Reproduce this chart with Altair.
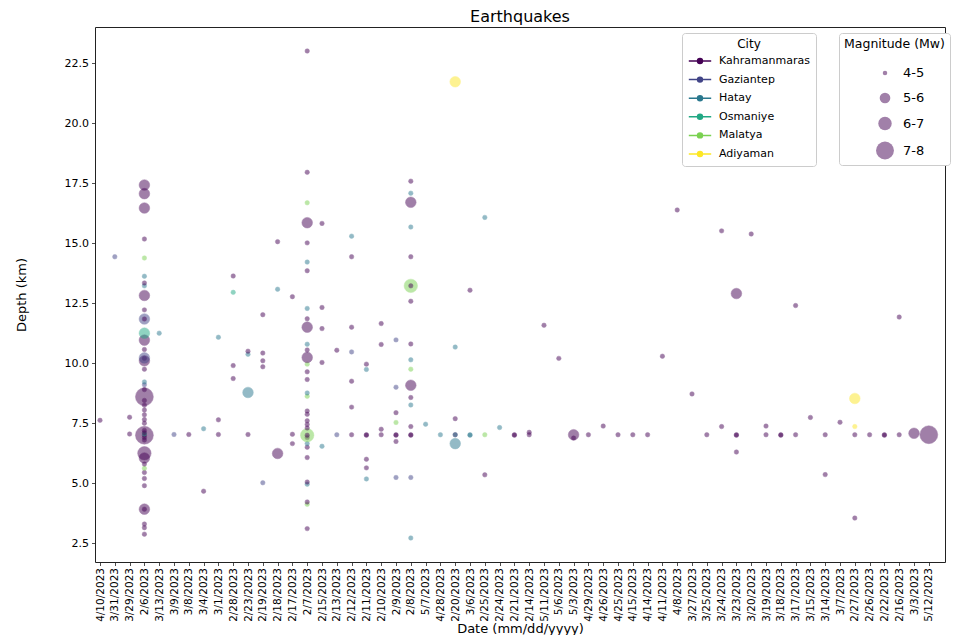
import altair as alt
import pandas as pd

# x-axis categories, in the order they appear on the chart
date_order = [
    "4/10/2023", "3/31/2023", "3/29/2023", "2/6/2023", "3/13/2023", "3/9/2023", "3/8/2023",
    "3/4/2023", "3/1/2023", "2/28/2023", "2/23/2023", "2/19/2023", "2/18/2023", "2/17/2023",
    "2/7/2023", "2/15/2023", "2/13/2023", "2/12/2023", "2/11/2023", "2/10/2023", "2/9/2023",
    "2/8/2023", "5/7/2023", "4/28/2023", "2/20/2023", "3/6/2023", "2/25/2023", "2/24/2023",
    "2/21/2023", "2/14/2023", "5/11/2023", "5/6/2023", "5/3/2023", "4/29/2023", "4/26/2023",
    "4/25/2023", "4/15/2023", "4/14/2023", "4/11/2023", "4/8/2023", "3/27/2023", "3/25/2023",
    "3/24/2023", "3/23/2023", "3/20/2023", "3/19/2023", "3/18/2023", "3/17/2023", "3/15/2023",
    "3/14/2023", "3/7/2023", "2/27/2023", "2/26/2023", "2/22/2023", "2/16/2023", "3/3/2023",
    "5/12/2023",
]

city_names = ["Kahramanmaras", "Gaziantep", "Hatay", "Osmaniye", "Malatya", "Adiyaman"]
city_codes = ["K", "G", "H", "O", "M", "A"]
city_colors = ["#440154", "#414487", "#2a788e", "#22a884", "#7ad151", "#fde725"]

mag_bins = ["4-5", "5-6", "6-7", "7-8"]
mag_codes = ["s", "m", "l", "x"]

# events per date: (depth km, city code, magnitude code)
events = {
    "4/10/2023": [(7.62, "K", "s")],
    "3/31/2023": [(14.43, "G", "s")],
    "3/29/2023": [(7.75, "K", "s"), (7.05, "K", "s")],
    "2/6/2023": [
        (17.42, "K", "m"), (17.06, "K", "m"), (16.46, "K", "m"), (15.17, "K", "s"), (14.38, "M", "s"),
        (13.62, "H", "s"), (13.34, "K", "s"), (13.22, "H", "s"), (12.82, "K", "m"), (12.22, "K", "s"),
        (11.84, "G", "m"), (11.84, "K", "s"), (11.25, "O", "m"), (10.96, "K", "m"), (10.57, "K", "s"),
        (10.22, "G", "m"), (10.2, "K", "s"), (10.1, "K", "m"), (9.75, "K", "s"), (9.22, "H", "s"),
        (9.1, "G", "s"), (8.6, "K", "x"), (8.9, "K", "s"), (8.45, "K", "s"), (8.25, "K", "s"),
        (8.05, "K", "s"), (7.85, "K", "s"), (7.65, "K", "s"), (7.5, "K", "s"), (7.0, "K", "x"),
        (7.2, "K", "s"), (7.1, "K", "s"), (7.0, "K", "s"), (6.9, "K", "s"), (7.05, "O", "s"),
        (6.8, "K", "s"), (6.25, "K", "l"), (6.05, "K", "m"), (5.8, "K", "s"), (5.62, "M", "s"),
        (5.45, "K", "s"), (5.2, "K", "s"), (4.9, "K", "s"), (3.92, "K", "m"), (3.92, "K", "s"),
        (3.3, "K", "s"), (3.15, "K", "s"), (2.88, "K", "s"),
    ],
    "3/13/2023": [(11.25, "H", "s")],
    "3/9/2023": [(7.03, "G", "s")],
    "3/8/2023": [(7.03, "K", "s")],
    "3/4/2023": [(7.27, "H", "s"), (4.67, "K", "s")],
    "3/1/2023": [(11.08, "H", "s"), (7.64, "K", "s"), (7.03, "K", "s")],
    "2/28/2023": [(13.63, "K", "s"), (12.95, "O", "s"), (9.9, "K", "s"), (9.36, "K", "s")],
    "2/23/2023": [(10.5, "K", "s"), (10.37, "H", "s"), (8.78, "H", "m"), (7.03, "K", "s")],
    "2/19/2023": [(12.02, "K", "s"), (10.42, "K", "s"), (10.1, "K", "s"), (9.85, "K", "s"), (5.02, "G", "s")],
    "2/18/2023": [(15.06, "K", "s"), (13.08, "H", "s"), (6.24, "K", "m")],
    "2/17/2023": [(12.77, "K", "s"), (7.04, "K", "s"), (6.65, "K", "s")],
    "2/7/2023": [
        (23.0, "K", "s"), (17.95, "K", "s"), (16.68, "M", "s"), (15.85, "K", "m"), (15.01, "K", "s"),
        (14.21, "H", "s"), (13.85, "K", "s"), (12.28, "H", "s"), (11.85, "K", "s"), (11.5, "K", "m"),
        (10.79, "H", "s"), (10.55, "K", "s"), (10.24, "K", "m"), (9.96, "M", "s"), (9.64, "K", "s"),
        (9.32, "K", "s"), (8.76, "H", "s"), (8.62, "M", "s"), (8.01, "K", "s"), (7.87, "K", "s"),
        (7.6, "K", "s"), (7.45, "K", "s"), (7.3, "K", "s"), (7.0, "M", "l"), (7.0, "K", "s"),
        (6.9, "K", "s"), (6.65, "H", "s"), (6.5, "K", "s"), (6.07, "K", "s"), (5.05, "K", "s"),
        (4.96, "H", "s"), (4.22, "K", "s"), (4.12, "M", "s"), (3.11, "K", "s"),
    ],
    "2/15/2023": [(15.82, "K", "s"), (12.32, "K", "s"), (11.44, "K", "s"), (10.03, "K", "s"), (6.54, "H", "s")],
    "2/13/2023": [(10.54, "K", "s"), (7.02, "G", "s")],
    "2/12/2023": [(15.29, "H", "s"), (14.43, "K", "s"), (11.5, "K", "s"), (10.47, "G", "s"),
                  (9.25, "K", "s"), (8.17, "K", "s"), (7.02, "K", "s")],
    "2/11/2023": [(9.96, "K", "s"), (9.74, "H", "s"), (7.02, "K", "s"), (7.0, "K", "s"),
                  (6.0, "K", "s"), (5.64, "K", "s"), (5.18, "H", "s")],
    "2/10/2023": [(11.65, "K", "s"), (10.78, "K", "s"), (7.25, "K", "s"), (7.02, "K", "s")],
    "2/9/2023": [(10.97, "G", "s"), (9.0, "G", "s"), (7.94, "K", "s"), (7.53, "M", "s"),
                 (7.02, "K", "s"), (7.0, "K", "s"), (6.74, "K", "s"), (5.24, "G", "s")],
    "2/8/2023": [
        (17.58, "K", "s"), (17.08, "H", "s"), (16.7, "K", "m"), (15.67, "H", "s"), (14.43, "K", "s"),
        (13.22, "M", "l"), (13.22, "K", "s"), (12.58, "K", "s"), (10.8, "K", "s"), (10.14, "H", "s"),
        (9.75, "M", "s"), (9.08, "K", "m"), (8.57, "K", "s"), (8.26, "H", "s"), (7.36, "K", "s"),
        (7.02, "K", "s"), (7.0, "K", "s"), (5.24, "G", "s"), (2.72, "H", "s"),
    ],
    "5/7/2023": [(7.46, "H", "s")],
    "4/28/2023": [(7.02, "H", "s")],
    "2/20/2023": [(21.72, "A", "m"), (10.67, "H", "s"), (7.69, "K", "s"), (7.02, "K", "s"),
                  (7.02, "H", "s"), (6.65, "H", "m")],
    "3/6/2023": [(13.04, "K", "s"), (7.02, "H", "s"), (7.0, "H", "s")],
    "2/25/2023": [(16.07, "H", "s"), (7.02, "M", "s"), (5.35, "K", "s")],
    "2/24/2023": [(7.32, "H", "s")],
    "2/21/2023": [(7.02, "K", "s"), (7.0, "K", "s")],
    "2/14/2023": [(7.12, "K", "s"), (7.02, "K", "s")],
    "5/11/2023": [(11.58, "K", "s")],
    "5/6/2023": [(10.2, "K", "s")],
    "5/3/2023": [(7.02, "K", "m"), (6.88, "K", "s")],
    "4/29/2023": [(7.02, "K", "s")],
    "4/26/2023": [(7.38, "K", "s")],
    "4/25/2023": [(7.02, "K", "s")],
    "4/15/2023": [(7.02, "K", "s")],
    "4/14/2023": [(7.02, "K", "s")],
    "4/11/2023": [(10.29, "K", "s")],
    "4/8/2023": [(16.38, "K", "s")],
    "3/27/2023": [(8.72, "K", "s")],
    "3/25/2023": [(7.02, "K", "s")],
    "3/24/2023": [(15.51, "K", "s"), (7.36, "K", "s")],
    "3/23/2023": [(12.9, "K", "m"), (7.02, "K", "s"), (7.0, "K", "s"), (6.3, "K", "s")],
    "3/20/2023": [(15.38, "K", "s")],
    "3/19/2023": [(7.38, "K", "s"), (7.02, "K", "s")],
    "3/18/2023": [(7.02, "K", "s"), (7.0, "K", "s")],
    "3/17/2023": [(12.4, "K", "s"), (7.02, "K", "s")],
    "3/15/2023": [(7.74, "K", "s")],
    "3/14/2023": [(7.02, "K", "s"), (5.36, "K", "s")],
    "3/7/2023": [(7.54, "K", "s")],
    "2/27/2023": [(8.53, "A", "m"), (7.36, "A", "s"), (7.02, "K", "s"), (3.55, "K", "s")],
    "2/26/2023": [(7.02, "K", "s")],
    "2/22/2023": [(7.02, "K", "s"), (7.0, "K", "s")],
    "2/16/2023": [(11.92, "K", "s"), (7.02, "K", "s")],
    "3/3/2023": [(7.08, "K", "m")],
    "5/12/2023": [(7.02, "K", "x")],
}

y_ticks = [2.5, 5.0, 7.5, 10.0, 12.5, 15.0, 17.5, 20.0, 22.5]

city_of = dict(zip(city_codes, city_names))
mag_of = dict(zip(mag_codes, mag_bins))
rows = []
for d in date_order:
    for depth, c, m in events[d]:
        rows.append({"Date": d, "Depth": depth, "City": city_of[c], "Magnitude (Mw)": mag_of[m]})
df = pd.DataFrame(rows)

FONT = "DejaVu Sans"
legend_path = "M-1.6,0H1.6M0.35,0A0.35,0.35,0,1,1,-0.35,0A0.35,0.35,0,1,1,0.35,0Z"

color_scale = alt.Scale(domain=city_names, range=city_colors)


def city_legend():
    return alt.Legend(title="City", orient="none", legendX=587, legendY=6,
                      symbolType=legend_path, symbolSize=196, symbolStrokeWidth=1.5,
                      symbolOpacity=1, symbolOffset=4, labelOffset=11,
                      padding=6, rowPadding=4.6, titlePadding=2,
                      titleAnchor="middle", titleAlign="center",
                      labelFontSize=11, titleFontSize=12,
                      strokeColor="#cccccc", cornerRadius=3, fillColor="white")


chart = alt.Chart(df).mark_circle(opacity=0.5, strokeWidth=0.5).encode(
    x=alt.X("Date:N", sort=date_order,
            scale=alt.Scale(type="point", domain=date_order, padding=0.716, align=0.236),
            axis=alt.Axis(title="Date (mm/dd/yyyy)", labelAngle=270, labelAlign="right",
                          labelBaseline="middle", labelOverlap=False, labelFontSize=10.5,
                          labelPadding=2, titlePadding=1)),
    y=alt.Y("Depth:Q", scale=alt.Scale(domain=[1.72, 24.0], nice=False, zero=False),
            axis=alt.Axis(title="Depth (km)", values=y_ticks, format=".1f", labelFontSize=11,
                          labelPadding=3, titlePadding=36)),
    fill=alt.Fill("City:N", scale=color_scale, legend=city_legend()),
    stroke=alt.Stroke("City:N", scale=color_scale, legend=city_legend()),
    size=alt.Size("Magnitude (Mw):O",
                  scale=alt.Scale(type="ordinal", domain=mag_bins, range=[20, 113, 180, 320]),
                  legend=alt.Legend(title="Magnitude (Mw)", orient="none", legendX=744, legendY=6,
                                    symbolType="circle", symbolFillColor="#440154",
                                    symbolStrokeColor="#440154", symbolStrokeWidth=0,
                                    symbolOpacity=0.5, symbolOffset=32, labelOffset=9,
                                    padding=5, rowPadding=7, titlePadding=16, gridAlign="all",
                                    labelFontSize=13, titleFontSize=12.5,
                                    strokeColor="#cccccc", cornerRadius=3, fillColor="white")),
    order=alt.Order("Depth:Q"),
).properties(
    width=850,
    height=535,
    title=alt.Title("Earthquakes", fontSize=16, font=FONT, fontWeight="normal", color="black",
                    anchor="middle", offset=2),
    autosize=alt.AutoSizeParams(type="none"),
    padding={"left": 87, "top": 19, "right": 6, "bottom": 73},
).configure(
    font=FONT,
).configure_view(
    stroke="#222222", strokeWidth=1,
).configure_axis(
    domain=False, ticks=True, tickColor="#222222", tickSize=3.5, tickWidth=0.8, grid=False,
    labelColor="black", titleColor="black", labelFont=FONT, titleFont=FONT,
    titleFontSize=13, titleFontWeight="normal",
).configure_legend(
    labelFont=FONT, titleFont=FONT, labelColor="black", titleColor="black",
    titleFontWeight="normal",
)

chart.save("out.html", embed_options={"renderer": "svg", "actions": False})
